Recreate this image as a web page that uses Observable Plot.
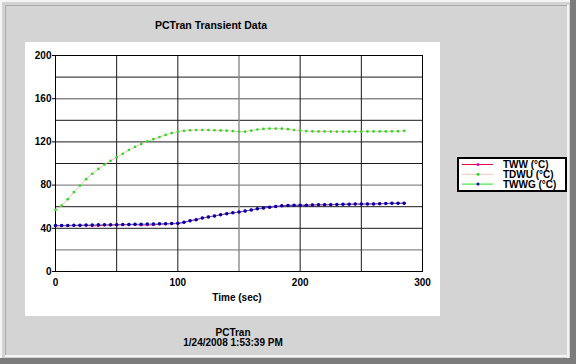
<!DOCTYPE html>
<html><head><meta charset="utf-8">
<script src="https://cdn.jsdelivr.net/npm/d3@7"></script>
<script src="https://cdn.jsdelivr.net/npm/@observablehq/plot@0.6"></script>
<style>
body{margin:0;background:#d4d4d4;}
#wrap{position:relative;width:576px;height:364px;background:#d4d4d4;overflow:hidden;font-family:"Liberation Sans",Arial,sans-serif;font-weight:bold;font-size:10px;color:#000;}
.abs{position:absolute;}
.txt{position:absolute;line-height:12px;white-space:nowrap;text-align:center;}
#chart svg{position:absolute;left:0;top:0;}
</style></head><body>
<div id="wrap">
  <div class="abs" style="left:0;top:0;width:576px;height:2px;background:#f4f4f4"></div>
  <div class="abs" style="left:0;top:0;width:2px;height:364px;background:#f4f4f4"></div>
  <div class="abs" style="left:5px;top:5px;width:562px;height:1px;background:#a8a8a8"></div>
  <div class="abs" style="left:5px;top:5px;width:1px;height:350px;background:#a8a8a8"></div>
  <div class="abs" style="left:567px;top:5px;width:2px;height:353px;background:#f4f4f4"></div>
  <div class="abs" style="left:5px;top:355px;width:564px;height:2px;background:#f4f4f4"></div>
  <div class="abs" style="left:570px;top:0;width:6px;height:364px;background:#7c7c7c"></div>
  <div class="abs" style="left:0;top:358px;width:576px;height:6px;background:#7c7c7c"></div>
  <div class="abs" style="left:25px;top:42px;width:415px;height:274px;background:#fff"></div>
  <div class="txt" id="title" style="left:111px;top:18.5px;width:200px;font-size:10.5px"></div>
  <div class="txt" id="xlabel" style="left:137px;top:291.5px;width:200px"></div>
  <div class="txt" id="foot1" style="left:133px;top:327px;width:200px"></div>
  <div class="txt" id="foot2" style="left:133px;top:337px;width:200px"></div>
  <div id="chart"></div>
  <div class="abs" id="legend" style="left:457px;top:157px;width:106px;height:31px;background:#fff;border:2px solid #000"></div>
</div>
<script>
const titleText = "PCTran Transient Data";
const xLabelText = "Time (sec)";
const footerLines = ["PCTran", "1/24/2008 1:53:39 PM"];
const seriesNames = ["TWW (°C)", "TDWU (°C)", "TWWG (°C)"];

const time = [0,5,10,15,20,25,30,35,40,45,50,55,60,65,70,75,80,85,90,95,100,
  105,110,115,120,125,130,135,140,145,150,155,160,165,170,175,180,185,190,195,200,
  205,210,215,220,225,230,235,240,245,250,255,260,265,270,275,280,285];

const twwg = [42.6,42.7,42.7,42.8,42.9,43.0,43.1,43.2,43.2,43.3,43.4,43.5,43.6,43.7,43.8,43.9,44.0,44.1,44.3,44.5,44.7,
  45.5,47.0,48.0,49.5,50.5,51.5,52.5,53.5,54.3,55.0,56.0,57.0,58.0,58.8,59.5,60.2,60.8,61.2,61.3,61.3,
  61.4,61.6,61.7,61.8,61.9,62.0,62.2,62.3,62.4,62.5,62.5,62.6,62.8,63.0,63.1,63.1,63.2];

const tww = [42.3,42.4,42.4,42.5,42.6,42.7,42.3,42.4,42.9,43.0,43.1,43.2,43.3,43.4,43.0,43.1,43.2,43.8,44.0,44.2,44.4,
  45.5,47.0,48.0,49.5,50.5,51.5,52.5,53.5,54.3,55.0,56.0,57.0,58.0,58.8,59.5,60.2,60.8,61.2,61.3,61.3,
  61.4,61.6,61.7,61.8,61.9,62.0,62.2,62.3,62.4,62.5,62.5,62.6,62.8,63.0,63.1,63.1,63.2];

const tdwu = [57.0,61.0,67.0,73.5,79.6,85.5,90.5,95.0,99.0,102.5,105.9,109.0,112.5,115.5,118.0,120.5,122.5,124.5,126.5,128.2,129.5,
  130.3,130.8,131.0,131.0,131.0,130.8,130.6,130.4,130.0,129.6,129.5,130.5,131.5,132.0,132.3,132.3,132.2,131.8,131.0,130.5,
  130.0,129.8,129.7,129.7,129.6,129.6,129.6,129.6,129.6,129.6,129.7,129.7,129.7,129.7,129.8,129.8,130.3];

const xTicks = [0,100,200,300];
const yTicks = [0,40,80,120,160,200];
const xGridDark = [50,100,200,250];
const xGridGray = [150];
const yGridDark = [40,60,100,120,140,180,200];
const yGridGray = [20,80,160];

const rows = (vals) => time.map((t,i) => ({t, v: vals[i]}));
const dTww = rows(tww), dTdwu = rows(tdwu), dTwwg = rows(twwg);

document.getElementById("title").textContent = titleText;
document.getElementById("xlabel").textContent = xLabelText;
document.getElementById("foot1").textContent = footerLines[0];
document.getElementById("foot2").textContent = footerLines[1];

const chart = Plot.plot({
  width: 576, height: 364,
  marginLeft: 55, marginRight: 154, marginTop: 55, marginBottom: 93,
  style: {background: "transparent", fontFamily: "'Liberation Sans', Arial, sans-serif", fontSize: "10px", fontWeight: "bold", color: "#000", overflow: "visible"},
  x: {domain: [0,300], label: null},
  y: {domain: [0,200], label: null},
  marks: [
    Plot.ruleY(yGridDark, {stroke: "#1a1a1a", strokeWidth: 1}),
    Plot.ruleY(yGridGray, {stroke: "#8a8a8a", strokeWidth: 1.4}),
    Plot.ruleX(xGridDark, {stroke: "#1a1a1a", strokeWidth: 1}),
    Plot.ruleX(xGridGray, {stroke: "#8a8a8a", strokeWidth: 1.4}),
    Plot.frame({stroke: "#000"}),
    Plot.line(dTww, {x: "t", y: "v", stroke: "#e8003c", strokeWidth: 1}),
    Plot.dot(dTww, {x: "t", y: "v", r: 1.4, fill: "#e000d0", stroke: "none"}),
    Plot.line(dTdwu, {x: "t", y: "v", stroke: "#f2b4a4", strokeWidth: 0.9}),
    Plot.dot(dTdwu, {x: "t", y: "v", r: 1.35, fill: "#22e022", stroke: "none"}),
    Plot.line(dTwwg, {x: "t", y: "v", stroke: "#5a64c8", strokeWidth: 0.8}),
    Plot.dot(dTwwg, {x: "t", y: "v", r: 1.75, fill: "#0000a8", stroke: "none"}),
    Plot.axisX({ticks: xTicks, tickSize: 0, tickPadding: 7, label: null, fill: "#000"}),
    Plot.axisY({ticks: yTicks, tickSize: 3, tickPadding: 1, label: null, fill: "#000", stroke: "#000"})
  ]
});
document.getElementById("chart").appendChild(chart);

// legend
const legendColors = [
  {line: "#e8003c", dot: "#e000d0"},
  {line: "#f2c4c0", dot: "#22e022"},
  {line: "#22e022", dot: "#0000a8"}
];
const lg = document.getElementById("legend");
const ns = "http://www.w3.org/2000/svg";
const svg = document.createElementNS(ns, "svg");
svg.setAttribute("width", 106); svg.setAttribute("height", 31);
svg.style.position = "absolute"; svg.style.left = "0"; svg.style.top = "0";
seriesNames.forEach((name, i) => {
  const y = 5.5 + i * 9.8;
  const ln = document.createElementNS(ns, "line");
  ln.setAttribute("x1", 3); ln.setAttribute("x2", 34);
  ln.setAttribute("y1", y); ln.setAttribute("y2", y);
  ln.setAttribute("stroke", legendColors[i].line);
  svg.appendChild(ln);
  const c = document.createElementNS(ns, "circle");
  c.setAttribute("cx", 19); c.setAttribute("cy", y); c.setAttribute("r", 1.5);
  c.setAttribute("fill", legendColors[i].dot);
  svg.appendChild(c);
  const t = document.createElementNS(ns, "text");
  t.setAttribute("x", 44); t.setAttribute("y", y + 3.6);
  t.setAttribute("font-family", "'Liberation Sans', Arial, sans-serif");
  t.setAttribute("font-size", "10px"); t.setAttribute("font-weight", "bold");
  t.textContent = name;
  svg.appendChild(t);
});
lg.appendChild(svg);
</script>
</body></html>
